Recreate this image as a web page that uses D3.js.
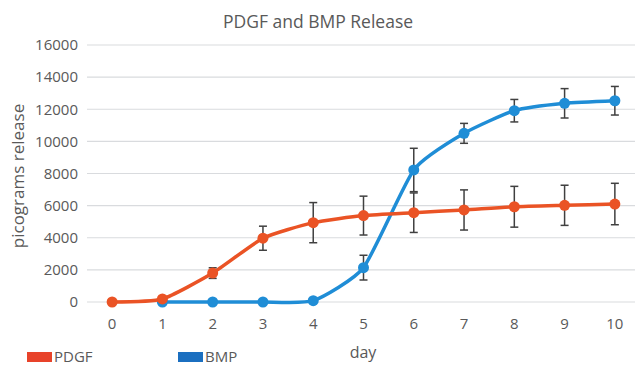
<!DOCTYPE html>
<html>
<head>
<meta charset="utf-8">
<script src="https://cdn.jsdelivr.net/npm/d3@7"></script>
<style>
html,body{margin:0;padding:0;background:#fff;}
svg{display:block;}
text{font-family:"Open Sans","Noto Sans",sans-serif;fill:#595959;}
</style>
</head>
<body>
<svg id="chart" width="635" height="366"></svg>
<script>
const days = [0,1,2,3,4,5,6,7,8,9,10];
const yTicks = [0,2000,4000,6000,8000,10000,12000,14000,16000];
const pdgfDays = [0,1,2,3,4,5,6,7,8,9,10];
const pdgfValues = [0,190,1800,3970,4940,5380,5560,5730,5930,6020,6100];
const pdgfErr = [0,0,330,750,1250,1210,1230,1250,1270,1250,1290];
const bmpDays = [1,2,3,4,5,6,7,8,9,10];
const bmpValues = [0,0,0,80,2140,8220,10500,11910,12370,12530];
const bmpErr = [0,0,0,0,770,1350,620,700,915,890];
const seriesNames = ["PDGF","BMP"];

const svg = d3.select("#chart");
const W = 635, H = 366;
const plotLeft = 87, plotRight = 640, plotTop = 45, plotBottom = 302;

const x = d3.scaleBand().domain(days).range([plotLeft, plotRight]).padding(0);
const xc = d => x(d) + x.bandwidth()/2;
const y = d3.scaleLinear().domain([0,16000]).range([plotBottom, plotTop]);

// gridlines
svg.append("g").selectAll("line").data(yTicks).join("line")
  .attr("x1", plotLeft).attr("x2", W)
  .attr("y1", d => y(d)).attr("y2", d => y(d))
  .attr("stroke", "#d9dbde").attr("stroke-width", 1.2);

// y axis labels
const yAxis = d3.axisLeft(y).tickValues(yTicks).tickSize(0).tickPadding(9).tickFormat(d3.format("d"));
const gy = svg.append("g").attr("transform", `translate(${plotLeft},0)`).call(yAxis);
gy.select(".domain").remove();
gy.selectAll("text").attr("font-size", 15).style("fill","#595959").attr("font-family",'"Open Sans",sans-serif');

// x axis labels
const xAxis = d3.axisBottom(x).tickSize(0).tickPadding(16);
const gx = svg.append("g").attr("transform", `translate(0,${plotBottom})`).call(xAxis);
gx.select(".domain").remove();
gx.selectAll("text").attr("font-size", 15).style("fill","#595959").attr("font-family",'"Open Sans",sans-serif');

// title
svg.append("text").attr("x", 318).attr("y", 28).attr("text-anchor","middle")
  .attr("font-size", 17.5).text("PDGF and BMP Release");
// axis titles
svg.append("text").attr("transform","translate(24,176) rotate(-90)").attr("text-anchor","middle")
  .attr("font-size", 17).text("picograms release");
svg.append("text").attr("x", 363).attr("y", 358).attr("text-anchor","middle")
  .attr("font-size", 16).text("day");

function drawSeries(xs, vals, errs, lineColor) {
  const pts = xs.map((d,i)=>({d, v: vals[i], e: errs[i]}));
  const line = d3.line().x(p=>xc(p.d)).y(p=>y(p.v)).curve(d3.curveCardinal.tension(0.45));
  const g = svg.append("g");
  g.append("path").datum(pts).attr("d", line).attr("fill","none")
    .attr("stroke", lineColor).attr("stroke-width", 3.5).attr("stroke-linejoin","round");
  const eb = g.append("g").selectAll("g").data(pts.filter(p=>p.e>0)).join("g");
  eb.append("line").attr("x1",p=>xc(p.d)).attr("x2",p=>xc(p.d))
    .attr("y1",p=>y(p.v+p.e)).attr("y2",p=>y(p.v-p.e)).attr("stroke","#404040").attr("stroke-width",1.5);
  eb.append("line").attr("x1",p=>xc(p.d)-4).attr("x2",p=>xc(p.d)+4)
    .attr("y1",p=>y(p.v+p.e)).attr("y2",p=>y(p.v+p.e)).attr("stroke","#404040").attr("stroke-width",1.5);
  eb.append("line").attr("x1",p=>xc(p.d)-4).attr("x2",p=>xc(p.d)+4)
    .attr("y1",p=>y(p.v-p.e)).attr("y2",p=>y(p.v-p.e)).attr("stroke","#404040").attr("stroke-width",1.5);
  g.append("g").selectAll("circle").data(pts).join("circle")
    .attr("cx",p=>xc(p.d)).attr("cy",p=>y(p.v)).attr("r",5.5).attr("fill",lineColor);
}
drawSeries(bmpDays, bmpValues, bmpErr, "#1f8dd6");
drawSeries(pdgfDays, pdgfValues, pdgfErr, "#ea5325");

// legend
const legend = [{name: seriesNames[0], color:"#e8432a", x:27},{name: seriesNames[1], color:"#1b6fc0", x:178}];
const lg = svg.append("g").selectAll("g").data(legend).join("g");
lg.append("rect").attr("x",d=>d.x).attr("y",352).attr("width",25).attr("height",10).attr("fill",d=>d.color);
lg.append("text").attr("x",d=>d.x+27).attr("y",362).attr("font-size",15).text(d=>d.name);
</script>
</body>
</html>
